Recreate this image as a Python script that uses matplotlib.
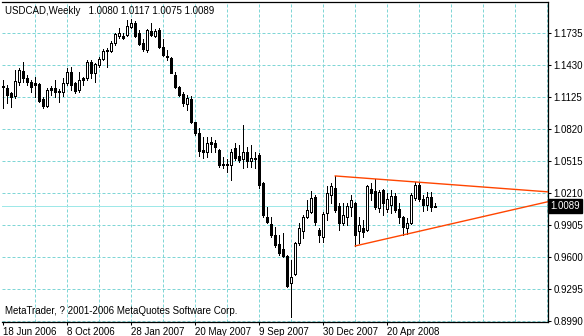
import numpy as np
import pandas as pd
import matplotlib
matplotlib.use("Agg")
import matplotlib.pyplot as plt

# ---- data (weekly USDCAD) ----
symbol = "USDCAD,Weekly"
open_ = [1.1220, 1.1211, 1.1163, 1.1135, 1.1268, 1.1373, 1.1306, 1.1268, 1.1258, 1.1249,
         1.1106, 1.1039, 1.1211, 1.1211, 1.1182, 1.1173, 1.1258, 1.1363, 1.1258, 1.1192,
         1.1306, 1.1306, 1.1459, 1.1354, 1.1430, 1.1487, 1.1573, 1.1563, 1.1640, 1.1706,
         1.1687, 1.1716, 1.1792, 1.1830, 1.1735, 1.1640, 1.1573, 1.1754, 1.1706, 1.1764,
         1.1602, 1.1516, 1.1497, 1.1335, 1.1220, 1.1154, 1.1058, 1.1106, 1.0887, 1.0782,
         1.0605, 1.0601, 1.0677, 1.0687, 1.0620, 1.0486, 1.0480, 1.0477, 1.0639, 1.0563,
         1.0534, 1.0601, 1.0515, 1.0544, 1.0572, 1.0305, 0.9981, 0.9915, 0.9810, 0.9724,
         0.9676, 0.9609, 0.9352, 0.9438, 0.9733, 0.9848, 0.9981, 1.0029, 1.0172, 0.9857,
         0.9791, 1.0019, 1.0191, 1.0258, 1.0086, 0.9924, 0.9981, 1.0077, 1.0115, 0.9848,
         0.9876, 0.9857, 1.0248, 1.0229, 1.0067, 1.0239, 1.0057, 1.0096, 1.0181, 1.0057,
         0.9981, 0.9876, 0.9924, 1.0162, 1.0286, 1.0153, 1.0096, 1.0172, 1.0080]
high = [1.1287, 1.1239, 1.1173, 1.1382, 1.1401, 1.1459, 1.1335, 1.1287, 1.1316, 1.1258,
        1.1125, 1.1211, 1.1230, 1.1287, 1.1201, 1.1306, 1.1401, 1.1411, 1.1268, 1.1363,
        1.1316, 1.1478, 1.1478, 1.1449, 1.1506, 1.1583, 1.1592, 1.1659, 1.1735, 1.1783,
        1.1735, 1.1859, 1.1868, 1.1849, 1.1764, 1.1678, 1.1773, 1.1830, 1.1773, 1.1783,
        1.1678, 1.1573, 1.1506, 1.1363, 1.1230, 1.1173, 1.1144, 1.1135, 1.0890, 1.0830,
        1.0744, 1.0744, 1.0744, 1.0715, 1.0629, 1.0553, 1.0534, 1.0629, 1.0687, 1.0667,
        1.0858, 1.0648, 1.0667, 1.0601, 1.0591, 1.0315, 1.0077, 0.9981, 0.9886, 0.9810,
        0.9829, 0.9619, 0.9571, 0.9743, 0.9924, 1.0000, 1.0143, 1.0229, 1.0191, 0.9876,
        1.0029, 1.0277, 1.0305, 1.0372, 1.0115, 1.0115, 1.0115, 1.0191, 1.0124, 0.9981,
        0.9953, 1.0286, 1.0305, 1.0343, 1.0239, 1.0248, 1.0210, 1.0239, 1.0210, 1.0115,
        0.9991, 0.9972, 1.0210, 1.0315, 1.0305, 1.0191, 1.0219, 1.0219, 1.0117]
low = [1.1020, 1.1068, 1.1030, 1.1115, 1.1239, 1.1268, 1.1239, 1.1173, 1.1125, 1.1077,
       1.1020, 1.1030, 1.1144, 1.1125, 1.1077, 1.1135, 1.1239, 1.1192, 1.1163, 1.1173,
       1.1239, 1.1287, 1.1306, 1.1268, 1.1411, 1.1478, 1.1411, 1.1554, 1.1621, 1.1687,
       1.1678, 1.1706, 1.1783, 1.1697, 1.1621, 1.1563, 1.1554, 1.1706, 1.1697, 1.1592,
       1.1516, 1.1478, 1.1354, 1.1211, 1.1135, 1.1039, 1.1001, 1.0877, 1.0763, 1.0563,
       1.0544, 1.0553, 1.0601, 1.0601, 1.0458, 1.0448, 1.0410, 1.0334, 1.0524, 1.0505,
       1.0448, 1.0458, 1.0458, 1.0448, 1.0258, 0.9981, 0.9924, 0.9791, 0.9695, 0.9619,
       0.9600, 0.9314, 0.9028, 0.9428, 0.9714, 0.9781, 0.9972, 1.0019, 0.9905, 0.9743,
       0.9743, 0.9953, 1.0115, 1.0029, 0.9857, 0.9905, 0.9905, 0.9991, 0.9705, 0.9733,
       0.9791, 0.9848, 1.0143, 1.0057, 1.0029, 1.0000, 1.0029, 1.0019, 1.0029, 0.9924,
       0.9810, 0.9819, 0.9915, 1.0143, 1.0134, 1.0038, 1.0048, 1.0038, 1.0075]
close = [1.1230, 1.1144, 1.1125, 1.1277, 1.1382, 1.1306, 1.1268, 1.1220, 1.1239, 1.1087,
         1.1039, 1.1192, 1.1192, 1.1173, 1.1173, 1.1258, 1.1363, 1.1239, 1.1182, 1.1287,
         1.1287, 1.1459, 1.1354, 1.1440, 1.1487, 1.1563, 1.1563, 1.1640, 1.1725, 1.1735,
         1.1706, 1.1802, 1.1830, 1.1706, 1.1630, 1.1583, 1.1764, 1.1716, 1.1754, 1.1602,
         1.1525, 1.1506, 1.1354, 1.1220, 1.1144, 1.1068, 1.1115, 1.0887, 1.0782, 1.0610,
         1.0615, 1.0687, 1.0696, 1.0648, 1.0477, 1.0477, 1.0480, 1.0601, 1.0544, 1.0524,
         1.0601, 1.0515, 1.0544, 1.0534, 1.0286, 1.0000, 0.9934, 0.9810, 0.9714, 0.9638,
         0.9609, 0.9324, 0.9409, 0.9733, 0.9876, 0.9981, 1.0048, 1.0162, 0.9934, 0.9810,
         1.0010, 1.0210, 1.0277, 1.0048, 0.9924, 1.0000, 1.0086, 1.0143, 0.9810, 0.9905,
         0.9838, 1.0277, 1.0210, 1.0077, 1.0219, 1.0115, 1.0153, 1.0181, 1.0048, 0.9981,
         0.9886, 0.9924, 1.0191, 1.0286, 1.0153, 1.0096, 1.0172, 1.0077, 1.0089]

dates = pd.date_range("2006-06-18", periods=len(close), freq="7D")

price_ticks = [1.1735, 1.1430, 1.1125, 1.0820, 1.0515, 1.0210, 0.9905, 0.9600, 0.9295, 0.8990]
last_price = 1.0089

# trend lines: (bar index, price) anchors
upper_idx, upper_px = [83, 103], [1.0372, 1.0315]
lower_idx, lower_px = [88, 100], [0.9705, 0.9810]

plt.rcParams["font.family"] = ["Liberation Sans", "DejaVu Sans"]
FS = 7.0

# ---- figure ----
fig = plt.figure(figsize=(5.84, 3.36), dpi=100)
ax = fig.add_axes([2 / 584, 14 / 336, 546 / 584, 320 / 336])

grid_col = "#7fd6d6"
x_left, x_right = -0.33, 136.2
y_lo, y_hi = 0.8980, 1.2030
ax.set_xlim(x_left, x_right)
ax.set_ylim(y_lo, y_hi)
px = (y_hi - y_lo) / 320  # one pixel in price units

idx = np.arange(len(close))
o = np.array(open_)
c = np.array(close)
h = np.array(high)
l = np.array(low)

one_px = 72 / 100

# grid (drawn by hand so the colour stays exact)
for gx in np.arange(8, 137, 8):
    ax.axvline(gx, color=grid_col, lw=one_px, ls=(0, (3, 2)), zorder=1)
for gy in price_ticks:
    ax.axhline(gy, color=grid_col, lw=one_px, ls=(0, (3, 2)), zorder=1)

# candles
ax.vlines(idx, l, h, color="black", lw=one_px, zorder=3, antialiased=False)
bot = np.minimum(o, c)
top = np.maximum(np.maximum(o, c), bot + px)
ax.vlines(idx, bot, top, color="black", lw=3 * one_px, zorder=4,
          antialiased=False, capstyle="butt")
up = (c > o) & (top - bot > 2.2 * px)
ax.vlines(idx[up], bot[up] + px, top[up] - px, color="white", lw=one_px, zorder=5,
          antialiased=False, capstyle="butt")

# current price line
ax.axhline(last_price, color="#9ee8e8", lw=one_px, zorder=2, antialiased=False)

# trend lines, extended to the right edge
for xs, ys in [(upper_idx, upper_px), (lower_idx, lower_px)]:
    k = (ys[1] - ys[0]) / (xs[1] - xs[0])
    ax.plot([xs[0], x_right], [ys[0], ys[0] + k * (x_right - xs[0])],
            color="#ff4500", lw=1.0, zorder=6)

# axes / ticks
ax.spines["left"].set_visible(False)
for s in ["top", "right", "bottom"]:
    ax.spines[s].set_linewidth(0.9)

ax.yaxis.tick_right()
ax.set_yticks(price_ticks)
ax.set_yticklabels([f"{p:.4f}" for p in price_ticks])
ax.tick_params(axis="y", direction="out", length=2.5, width=0.75, pad=1.5,
               labelsize=FS, colors="black")

ax.set_xticks(idx[::16])
ax.set_xticklabels([f"{d.day} {d:%b %Y}" for d in dates[::16]])
ax.tick_params(axis="x", direction="out", length=2.5, width=0.75,
               pad=0.8, labelsize=FS)
for lbl in ax.get_xticklabels():
    lbl.set_ha("left")

# texts
ax.text(0.006, 1 - 9 / 320, f"{symbol}   1.0080 1.0117 1.0075 1.0089",
        transform=ax.transAxes, fontsize=FS, va="center", ha="left")
ax.text(0.006, 11 / 320, "MetaTrader, ? 2001-2006 MetaQuotes Software Corp.",
        transform=ax.transAxes, fontsize=FS, va="center", ha="left")
ax.text(1.004, last_price, f"{last_price:.4f}", transform=ax.get_yaxis_transform(),
        fontsize=FS, color="white", va="center", ha="left", clip_on=False,
        bbox=dict(boxstyle="square,pad=0.22", fc="black", ec="black"), zorder=10)

fig.savefig("out.png", dpi=100)
